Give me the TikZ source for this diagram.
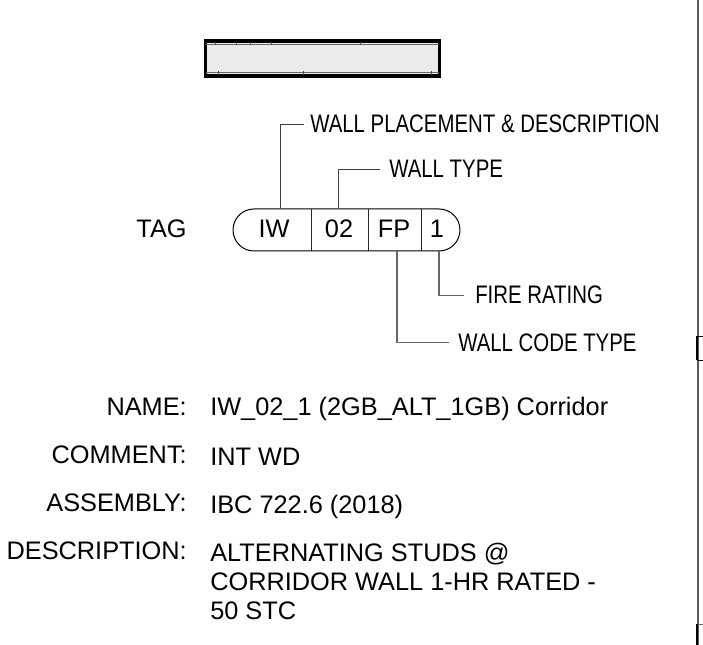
\documentclass[tikz,border=0pt]{standalone}
\usepackage{fontspec}
\setmainfont{Liberation Sans}
\newfontfamily\condfont[FakeStretch=0.805]{Liberation Sans}
\tikzset{
  x=0.75pt,y=-0.75pt,
  leader/.style={draw=black!75,line width=0.75pt},
  lowleader/.style={draw=black!60,line width=0.9pt},
  body/.style={inner sep=0pt,font=\fontsize{19}{22}\selectfont},
  cell/.style={inner sep=0pt,font=\fontsize{19}{22}\selectfont,anchor=base},
  callout/.style={inner xsep=4.5pt,inner ysep=0pt,text height=12.5pt,text depth=0pt,anchor=base west,font=\condfont\fontsize{19}{22}\selectfont},
}
\begin{document}
\begin{tikzpicture}
\useasboundingbox (0,0) rectangle (703,645);
% wall sample
\draw[fill=black!8,draw=black,line width=2.6pt] (205.5,41) rectangle (439.5,76);
\draw[black!60,line width=0.75pt] (206,44.5) -- (439,44.5) (206,73) -- (439,73);
\foreach \tx in {215,236,250,271,360} \draw[black!70,line width=0.5pt] (\tx,42) -- (\tx,45.5);
\foreach \tx in {218,303,431} \draw[black!70,line width=0.5pt] (\tx,71.5) -- (\tx,75);
% tag
\draw[line width=0.75pt] (254,209) -- (439,209) arc[start angle=-90,end angle=90,radius=21] -- (254,251) arc[start angle=90,end angle=270,radius=21] -- cycle;
\draw[line width=0.6pt,black!85] (311.3,209) -- (311.3,251) (368.7,209) -- (368.7,251) (421.3,209) -- (421.3,251);
\node[cell] (tag) at (161.5,238) {TAG};
\node[cell] (cw) at (274,238) {IW};
\node[cell] (ct) at (339,238) {02};
\node[cell] (cc) at (394,238) {FP};
\node[cell] (cr) at (437,238) {1};
\coordinate (pa) at (280,209);
\coordinate (pb) at (338,209);
\coordinate (pc) at (397,251);
\coordinate (pd) at (439,251);
\node[callout] (la) at (304,132.5) {WALL PLACEMENT \& DESCRIPTION};
\node[callout] (lb) at (383,177.5) {WALL TYPE};
\node[callout] (ld) at (469,304) {FIRE RATING};
\node[callout] (lc) at (452,351) {WALL CODE TYPE};
\draw[leader] (pa) |- (la.west);
\draw[leader,shorten >=2.25pt] (pb) |- (lb.west);
\draw[lowleader,shorten >=3.75pt] (pd) |- (ld.west);
\draw[lowleader,shorten >=2.25pt] (pc) |- (lc.west);
% fields
\node[body,anchor=base east] (k1) at (187,415) {NAME:};
\node[body,anchor=base east] (k2) at (187,463) {COMMENT:};
\node[body,anchor=base east] (k3) at (187,511) {ASSEMBLY:};
\node[body,anchor=base east] (k4) at (187,559) {DESCRIPTION:};
\node[body,anchor=base west] (v1) at (210,415) {IW\_02\_1 (2GB\_ALT\_1GB) Corridor};
\node[body,anchor=base west] (v2) at (210,465) {INT WD};
\node[body,anchor=base west] (v3) at (210,513) {IBC 722.6 (2018)};
\node[body,anchor=base west] (v4) at (210,561) {ALTERNATING STUDS @};
\node[body,anchor=base west] (v5) at (210,590) {CORRIDOR WALL 1-HR RATED -};
\node[body,anchor=base west] (v6) at (210,619) {50 STC};
% sheet edge
\draw[black!65,line width=1.5pt] (697.5,0) -- (697.5,645);
\draw[black,line width=1pt] (697,336) -- (697,360);
\draw[black,line width=0.5pt] (697,336.5) -- (703,336.5);
\draw[black,line width=0.75pt] (697,360) -- (703,360);
\draw[black!60,line width=0.75pt] (697,624) -- (703,624);
\draw[black,line width=1pt] (697,624) -- (697,645);
\end{tikzpicture}
\end{document}
